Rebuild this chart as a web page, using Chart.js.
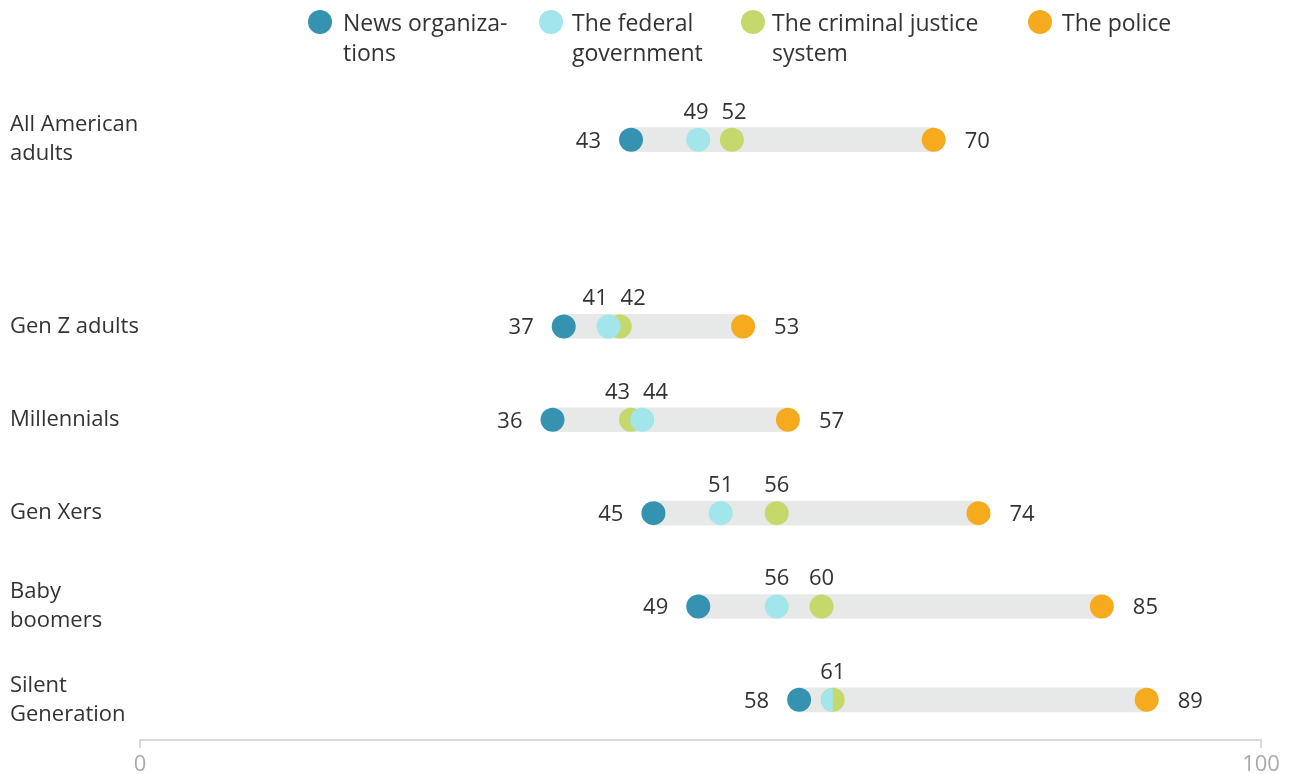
<!DOCTYPE html>
<html>
<head>
<meta charset="utf-8">
<script src="https://cdn.jsdelivr.net/npm/chart.js@4.4.0/dist/chart.umd.min.js"></script>
<style>
    body { margin: 0; background: #fff; font-family: 'Open Sans', sans-serif; }
    #wrap { position: relative; width: 1291px; height: 774px; }
    #chart { position: absolute; left: 0; top: 0; }
    .legend-item { position: absolute; top: 7px; font-size: 23px; line-height: 30px; color: #333; white-space: nowrap; }
    .legend-dot { position: absolute; top: 10px; width: 24px; height: 24px; border-radius: 50%; }
</style>
</head>
<body>
<div id="wrap">
    <canvas id="chart" width="1291" height="774"></canvas>
    <div id="legend"></div>
</div>
<script>
// Data
const categories = [['All American', 'adults'], 'Gen Z adults', 'Millennials', 'Gen Xers', ['Baby', 'boomers'], ['Silent', 'Generation']];
const newsOrgs = [43, 37, 36, 45, 49, 58];
const federalGov = [49, 41, 44, 51, 56, 61];
const criminalJustice = [52, 42, 43, 56, 60, 61];
const police = [70, 53, 57, 74, 85, 89];
const xTicks = [0, 100];

const seriesNames = [['News organiza-', 'tions'], ['The federal', 'government'], ['The criminal justice', 'system'], ['The police']];
const colors = ['#3592b0', '#a2e5eb', '#c4d86c', '#f6ab1f'];
const barColor = '#e7e9e8';

// row slot on the y scale: leave an empty row after the overall group
const slot = i => (i === 0 ? 0 : i + 1);

// HTML legend
const legendPos = [[320, 343], [551, 572], [753, 772], [1040, 1062]];
const legendEl = document.getElementById('legend');
seriesNames.forEach((name, i) => {
    const dot = document.createElement('div');
    dot.className = 'legend-dot';
    dot.style.left = (legendPos[i][0] - 12) + 'px';
    dot.style.background = colors[i];
    legendEl.appendChild(dot);
    const txt = document.createElement('div');
    txt.className = 'legend-item';
    txt.style.left = legendPos[i][1] + 'px';
    txt.innerHTML = name.join('<br>');
    legendEl.appendChild(txt);
});

// half dot used when federal and criminal justice share a value
function halfDot(color) {
    const c = document.createElement('canvas');
    c.width = 24;
    c.height = 24;
    const g = c.getContext('2d');
    g.fillStyle = color;
    g.beginPath();
    g.arc(12, 12, 12, Math.PI / 2, Math.PI * 1.5);
    g.closePath();
    g.fill();
    return c;
}
const federalHalf = halfDot(colors[1]);

function points(values) {
    return values.map((v, i) => ({ x: v, y: slot(i) }));
}

const valueLabels = {
    id: 'valueLabels',
    afterDatasetsDraw(chart) {
        const ctx = chart.ctx;
        const xs = chart.scales.x;
        const ys = chart.scales.y;
        ctx.save();
        ctx.font = '22px "Open Sans"';
        ctx.fillStyle = '#333';
        ctx.textBaseline = 'alphabetic';
        categories.forEach((c, i) => {
            const y = ys.getPixelForValue(slot(i));
            ctx.textAlign = 'right';
            ctx.fillText(newsOrgs[i], xs.getPixelForValue(newsOrgs[i]) - 30, y + 8);
            ctx.textAlign = 'left';
            ctx.fillText(police[i], xs.getPixelForValue(police[i]) + 31, y + 8);

            ctx.textAlign = 'center';
            let a = xs.getPixelForValue(federalGov[i]);
            let b = xs.getPixelForValue(criminalJustice[i]);
            if (federalGov[i] === criminalJustice[i]) {
                ctx.fillText(federalGov[i], a, y - 21);
                return;
            }
            const minGap = 38;
            if (Math.abs(a - b) < minGap) {
                const mid = (a + b) / 2;
                const dir = a < b ? -1 : 1;
                a = mid + dir * minGap / 2;
                b = mid - dir * minGap / 2;
            }
            ctx.fillText(federalGov[i], a, y - 21);
            ctx.fillText(criminalJustice[i], b, y - 21);
        });
        ctx.restore();
    }
};

Chart.defaults.font.family = "'Open Sans', sans-serif";

new Chart(document.getElementById('chart').getContext('2d'), {
    type: 'scatter',
    data: {
        datasets: [
            {
                type: 'bar',
                indexAxis: 'y',
                data: categories.map((c, i) => ({ x: [newsOrgs[i], police[i]], y: slot(i) })),
                backgroundColor: barColor,
                barThickness: 24,
                xAxisID: 'x',
                yAxisID: 'y',
                order: 10
            },
            {
                data: points(newsOrgs),
                backgroundColor: colors[0],
                pointRadius: 12,
                pointHoverRadius: 12,
                borderWidth: 0,
                xAxisID: 'x',
                yAxisID: 'y',
                order: 4
            },
            {
                data: points(criminalJustice),
                backgroundColor: colors[2],
                pointRadius: 12,
                pointHoverRadius: 12,
                borderWidth: 0,
                xAxisID: 'x',
                yAxisID: 'y',
                order: 3
            },
            {
                data: points(federalGov),
                backgroundColor: colors[1],
                pointRadius: 12,
                pointHoverRadius: 12,
                borderWidth: 0,
                pointStyle: (ctx) => (federalGov[ctx.dataIndex] === criminalJustice[ctx.dataIndex] ? federalHalf : 'circle'),
                xAxisID: 'x',
                yAxisID: 'y',
                order: 2
            },
            {
                data: points(police),
                backgroundColor: colors[3],
                pointRadius: 12,
                pointHoverRadius: 12,
                borderWidth: 0,
                xAxisID: 'x',
                yAxisID: 'y',
                order: 1
            }
        ]
    },
    options: {
        responsive: false,
        animation: false,
        layout: { padding: { left: 10, right: 30, top: 93, bottom: 0 } },
        plugins: {
            legend: { display: false },
            tooltip: { enabled: false }
        },
        scales: {
            x: {
                type: 'linear',
                display: false,
                offset: false,
                min: -0.8,
                max: 99.2
            },
            x2: {
                type: 'linear',
                position: 'bottom',
                offset: false,
                min: 0,
                max: 100,
                afterBuildTicks: (scale) => { scale.ticks = xTicks.map(v => ({ value: v })); },
                afterFit: (scale) => { scale.height = 34; },
                grid: {
                    offset: false,
                    drawOnChartArea: false,
                    drawTicks: true,
                    tickLength: 8,
                    color: '#d9d9d9',
                    lineWidth: 2
                },
                border: { display: true, color: '#d9d9d9', width: 2 },
                ticks: {
                    color: '#aaaaaa',
                    font: { size: 22 },
                    padding: 4,
                    maxRotation: 0
                }
            },
            y: {
                type: 'linear',
                reverse: true,
                offset: false,
                min: -0.5,
                max: 6.43,
                afterBuildTicks: (scale) => { scale.ticks = categories.map((c, i) => ({ value: slot(i) })); },
                afterFit: (scale) => { scale.width = 130; },
                grid: { display: false, offset: false },
                border: { display: false },
                ticks: {
                    crossAlign: 'far',
                    color: '#333',
                    padding: 0,
                    font: { size: 22, lineHeight: 1.32 },
                    callback: (value) => {
                        const i = categories.findIndex((c, k) => slot(k) === value);
                        return i >= 0 ? categories[i] : '';
                    }
                }
            }
        }
    },
    plugins: [valueLabels]
});
</script>
</body>
</html>
